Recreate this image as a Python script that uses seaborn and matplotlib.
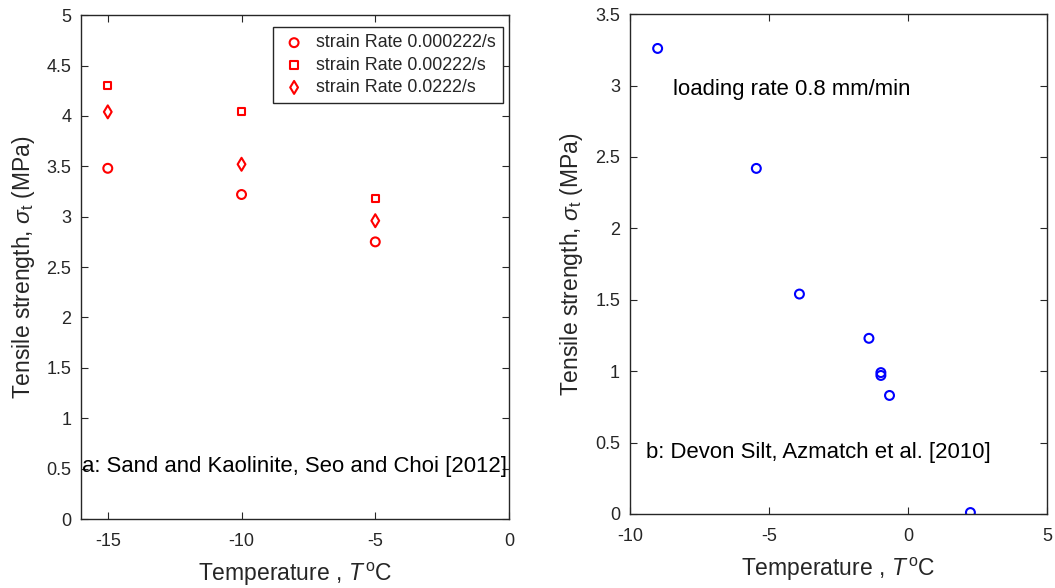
import matplotlib
matplotlib.use("Agg")
import matplotlib.pyplot as plt
import seaborn as sns
import pandas as pd

# ---- data ----
temps_a = [-15, -10, -5]
rate_000222 = [3.48, 3.22, 2.75]
rate_00222 = [4.30, 4.04, 3.18]
rate_0222 = [4.04, 3.52, 2.96]
labels_a = ["strain Rate 0.000222/s", "strain Rate 0.00222/s", "strain Rate 0.0222/s"]

temps_b = [-9.0, -5.45, -3.9, -1.4, -0.97, -0.97, -0.66, 2.25]
strength_b = [3.26, 2.42, 1.54, 1.23, 0.99, 0.97, 0.83, 0.01]

sns.set_style("white")
plt.rcParams["font.family"] = ["Liberation Sans", "DejaVu Sans"]
plt.rcParams["mathtext.fontset"] = "custom"
plt.rcParams["mathtext.it"] = "Liberation Sans:italic"
plt.rcParams["mathtext.rm"] = "Liberation Sans"
plt.rcParams["axes.unicode_minus"] = False

fig = plt.figure(figsize=(10.55, 5.88), dpi=100)
ax1 = fig.add_axes([0.0768, 0.1173, 0.4057, 0.857])
ax2 = fig.add_axes([0.597, 0.1259, 0.3953, 0.850])

dark = "#262626"
red = "#ff0000"
blue = "#0000ff"

series = [(rate_000222, "o", 6.4), (rate_00222, "s", 5.2), (rate_0222, "d", 6.6)]
for (vals, mk, ms), lab in zip(series, labels_a):
    df = pd.DataFrame({"T": temps_a, "s": vals})
    sns.scatterplot(data=df, x="T", y="s", ax=ax1, marker=mk, s=ms**2,
                    facecolor="none", edgecolor=red, linewidth=1.5, label=lab)

dfb = pd.DataFrame({"T": temps_b, "s": strength_b})
sns.scatterplot(data=dfb, x="T", y="s", ax=ax2, marker="o", s=6.4**2,
                facecolor="none", edgecolor=blue, linewidth=1.5, legend=False)

ax1.set_xlim(-16, 0)
ax1.set_ylim(0, 5)
ax1.set_xticks([-15, -10, -5, 0])
ax1.set_yticks([0, 0.5, 1, 1.5, 2, 2.5, 3, 3.5, 4, 4.5, 5])
ax1.set_yticklabels(["0", "0.5", "1", "1.5", "2", "2.5", "3", "3.5", "4", "4.5", "5"])

ax2.set_xlim(-10, 5)
ax2.set_ylim(0, 3.5)
ax2.set_xticks([-10, -5, 0, 5])
ax2.set_yticks([0, 0.5, 1, 1.5, 2, 2.5, 3, 3.5])
ax2.set_yticklabels(["0", "0.5", "1", "1.5", "2", "2.5", "3", "3.5"])

for ax in (ax1, ax2):
    ax.set_xlabel(r"Temperature , $T\,^{\mathrm{o}}$C", fontsize=16.5, color=dark, labelpad=8)
    ax.set_ylabel(r"Tensile strength, $\sigma_{\mathrm{t}}$ (MPa)", fontsize=16.5, color=dark, labelpad=7)
    ax.tick_params(direction="in", length=5, width=0.8, colors=dark, labelsize=13,
                   top=True, right=True, bottom=True, left=True, pad=7)
    ax.tick_params(axis="x", pad=10)
    for sp in ax.spines.values():
        sp.set_visible(True)
        sp.set_color(dark)
        sp.set_linewidth(1.0)

leg = ax1.legend(loc="upper right", bbox_to_anchor=(0.986, 0.976), fontsize=12.9,
                 frameon=True, fancybox=False, edgecolor=dark, framealpha=1,
                 borderpad=0.4, labelspacing=0.3, handletextpad=0.45, handlelength=1.56,
                 borderaxespad=0)
leg.get_frame().set_linewidth(1.0)

ax1.text(-15.97, 0.52, "a: Sand and Kaolinite, Seo and Choi [2012]", fontsize=15.9,
         color="black", va="center", ha="left")
ax2.text(-8.45, 2.97, "loading rate 0.8 mm/min", fontsize=15.9, color="black", va="center", ha="left")
ax2.text(-9.42, 0.43, "b: Devon Silt, Azmatch et al. [2010]", fontsize=15.9, color="black",
         va="center", ha="left")

fig.savefig("out.png", dpi=100)
